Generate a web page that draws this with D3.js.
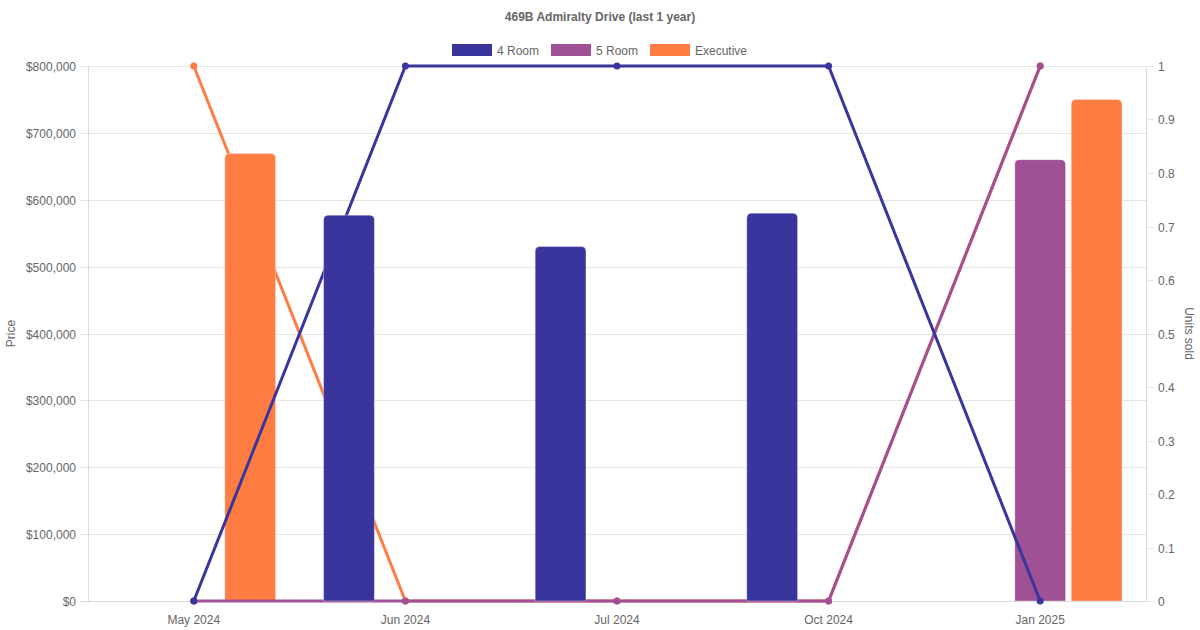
<!DOCTYPE html>
<html>
<head>
<meta charset="utf-8">
<script src="https://cdn.jsdelivr.net/npm/d3@7"></script>
<style>
  html, body { margin: 0; padding: 0; background: #fff; }
  svg { display: block; font-family: "Liberation Sans", Arial, Helvetica, sans-serif; }
</style>
</head>
<body>
<svg id="chart" width="1200" height="630"></svg>
<script>
const title = "469B Admiralty Drive (last 1 year)";
const categories = ["May 2024", "Jun 2024", "Jul 2024", "Oct 2024", "Jan 2025"];
const seriesNames = ["4 Room", "5 Room", "Executive"];
const seriesColors = ["#39359d", "#a05195", "#ff7c43"];
// Prices (bars, left axis); null = no sale
const price4Room = [null, 577000, 530000, 580000, null];
const price5Room = [null, null, null, null, 660000];
const priceExec = [669000, null, null, null, 750000];
// Units sold (lines, right axis)
const units4Room = [0, 1, 1, 1, 0];
const units5Room = [0, 0, 0, 0, 1];
const unitsExec = [1, 0, 0, 0, 1];
const priceTicks = [0, 100000, 200000, 300000, 400000, 500000, 600000, 700000, 800000];
const unitTicks = [0, 0.1, 0.2, 0.3, 0.4, 0.5, 0.6, 0.7, 0.8, 0.9, 1];

(function () {
const prices = [price4Room, price5Room, priceExec];
const units = [units4Room, units5Room, unitsExec];

const svg = d3.select("#chart");
const pLeft = 88, pRight = 1146, pTop = 66, pBottom = 601;
const textColor = "#666";
const gridColor = "#e5e5e5";

const x = d3.scaleBand().domain(categories).range([pLeft, pRight]);
// Chart.js style: category 80%, bar 90%
const catW = x.bandwidth() * 0.8;
const slot = catW / seriesNames.length;
const barW = slot * 0.9;
const yL = d3.scaleLinear().domain([0, 800000]).range([pBottom, pTop]);
const yR = d3.scaleLinear().domain([0, 1]).range([pBottom, pTop]);
const cx = c => x(c) + x.bandwidth() / 2;

// Title
svg.append("text").attr("x", 600).attr("y", 21).attr("text-anchor", "middle")
  .attr("font-size", 12).attr("font-weight", "bold").attr("fill", textColor).text(title);

// Legend
const legendX = [452, 551, 650];
seriesNames.forEach((n, i) => {
  const g = svg.append("g").attr("transform", `translate(${legendX[i]},44)`);
  g.append("rect").attr("width", 40).attr("height", 12).attr("fill", seriesColors[i]);
  g.append("text").attr("x", 45).attr("y", 10.5).attr("font-size", 12).attr("fill", textColor).text(n);
});

// Left axis grid + ticks
priceTicks.forEach(t => {
  const yy = Math.round(yL(t)) + 0.5;
  svg.append("line").attr("x1", pLeft - 8).attr("x2", pRight).attr("y1", yy).attr("y2", yy)
    .attr("stroke", t === 0 ? "#d8d8d8" : gridColor).attr("stroke-width", 1);
  svg.append("text").attr("x", pLeft - 12).attr("y", yy + 4).attr("text-anchor", "end")
    .attr("font-size", 12).attr("fill", textColor).text(d3.format("$,")(t));
});
svg.append("line").attr("x1", pLeft + 0.5).attr("x2", pLeft + 0.5).attr("y1", pTop).attr("y2", pBottom)
  .attr("stroke", "#dcdcdc");
svg.append("line").attr("x1", pRight + 0.5).attr("x2", pRight + 0.5).attr("y1", pTop).attr("y2", pBottom)
  .attr("stroke", "#dcdcdc");

// Right axis ticks
unitTicks.forEach(t => {
  const yy = Math.round(yR(t)) + 0.5;
  svg.append("line").attr("x1", pRight).attr("x2", pRight + 8).attr("y1", yy).attr("y2", yy)
    .attr("stroke", gridColor);
  svg.append("text").attr("x", pRight + 12).attr("y", yy + 4).attr("text-anchor", "start")
    .attr("font-size", 12).attr("fill", textColor).text(d3.format("~g")(t));
});

// X labels
categories.forEach(c => {
  svg.append("text").attr("x", cx(c)).attr("y", 624).attr("text-anchor", "middle")
    .attr("font-size", 12).attr("fill", textColor).text(c);
});

// Axis titles
svg.append("text").attr("transform", `translate(15,${(pTop + pBottom) / 2}) rotate(-90)`)
  .attr("text-anchor", "middle").attr("font-size", 12).attr("fill", textColor).text("Price");
svg.append("text").attr("transform", `translate(1185,${(pTop + pBottom) / 2}) rotate(90)`)
  .attr("text-anchor", "middle").attr("font-size", 12).attr("fill", textColor).text("Units sold");

const line = d3.line().x((d, i) => cx(categories[i])).y(d => yR(d));
function drawLine(s) {
  svg.append("path").datum(units[s]).attr("d", line).attr("fill", "none")
    .attr("stroke", seriesColors[s]).attr("stroke-width", 3).attr("stroke-linejoin", "round");
  svg.selectAll(null).data(units[s]).enter().append("circle")
    .attr("cx", (d, i) => cx(categories[i])).attr("cy", d => yR(d)).attr("r", 3.5)
    .attr("fill", seriesColors[s]);
}
function roundedTop(x0, y0, w, h, r) {
  r = Math.min(r, h, w / 2);
  return `M${x0},${y0 + h}V${y0 + r}Q${x0},${y0} ${x0 + r},${y0}H${x0 + w - r}Q${x0 + w},${y0} ${x0 + w},${y0 + r}V${y0 + h}Z`;
}
function drawBars(s) {
  prices[s].forEach((v, i) => {
    if (v == null) return;
    const c = categories[i];
    const bx = cx(c) - catW / 2 + s * slot + (slot - barW) / 2;
    const by = yL(v);
    svg.append("path").attr("d", roundedTop(bx, by, barW, pBottom - by, 5))
      .attr("fill", seriesColors[s]).attr("stroke", "rgba(255,255,255,0.35)").attr("stroke-width", 1);
  });
}

// Draw order (bottom to top): per series, line then bars; last series first
for (let s = seriesNames.length - 1; s >= 0; s--) {
  drawLine(s);
  drawBars(s);
}
})();
</script>
</body>
</html>
